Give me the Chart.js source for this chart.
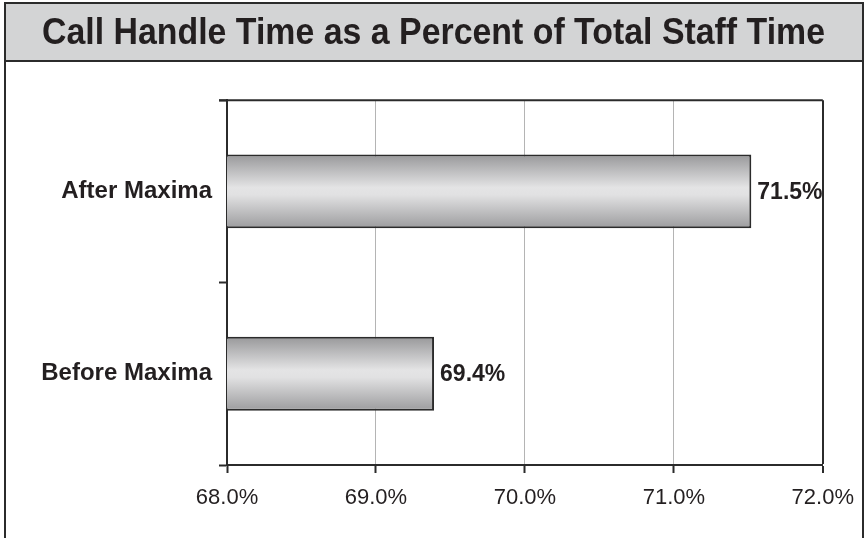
<!DOCTYPE html>
<html>
<head>
<meta charset="utf-8">
<script src="https://cdn.jsdelivr.net/npm/chart.js@4/dist/chart.umd.min.js"></script>
<style>
  html, body { margin: 0; padding: 0; background: #fff; }
  #wrap { position: relative; width: 866px; height: 538px; }
</style>
</head>
<body>
<div id="wrap"><canvas id="chart" width="866" height="538"></canvas></div>
<script>
const categories = ['After Maxima', 'Before Maxima'];
const shareValues = [71.52, 69.39];
const axisMin = 68;
const axisMax = 72;

const ctx = document.getElementById('chart');
const fontFamily = '"Liberation Sans", Arial, Helvetica, sans-serif';
const ink = '#231f20';

const barGradient = (context) => {
    const chart = context.chart;
    const { chartArea, scales } = chart;
    if (!chartArea || !scales.y) {
        return '#cfcfd0';
    }
    const yc = scales.y.getPixelForValue(context.dataIndex);
    const half = (scales.y.height / categories.length) * 0.405 / 2;
    const g = chart.ctx.createLinearGradient(0, yc - half, 0, yc + half);
    g.addColorStop(0, '#98989a');
    g.addColorStop(0.45, '#e4e4e5');
    g.addColorStop(0.55, '#e1e1e2');
    g.addColorStop(1, '#9c9c9e');
    return g;
};

const framePlugin = {
    id: 'frame',
    beforeDraw: (chart) => {
        const c = chart.ctx;
        c.save();
        c.fillStyle = '#ffffff';
        c.fillRect(0, 0, chart.width, chart.height);
        c.fillStyle = '#d3d4d5';
        c.fillRect(5, 3, 858, 58);
        c.strokeStyle = '#2b2b2b';
        c.lineWidth = 2;
        c.strokeRect(5, 3, 858, 58);
        c.beginPath();
        c.moveTo(5, 61);
        c.lineTo(5, chart.height);
        c.moveTo(863, 61);
        c.lineTo(863, chart.height);
        c.stroke();
        c.restore();
    },
    afterDraw: (chart) => {
        const { left, right, top } = chart.chartArea;
        const c = chart.ctx;
        c.save();
        c.strokeStyle = '#2b2b2b';
        c.lineWidth = 2;
        c.beginPath();
        c.moveTo(left - 8, top);
        c.lineTo(right, top);
        c.stroke();
        c.restore();
    }
};

const valueLabels = {
    id: 'valueLabels',
    afterDatasetsDraw: (chart) => {
        const c = chart.ctx;
        const meta = chart.getDatasetMeta(0);
        c.save();
        c.font = 'bold 23px ' + fontFamily;
        c.fillStyle = ink;
        c.textAlign = 'left';
        c.textBaseline = 'middle';
        meta.data.forEach((bar, i) => {
            c.fillText(shareValues[i].toFixed(1) + '%', bar.x + 6, bar.y + 1);
        });
        c.restore();
    }
};

const chart = new Chart(ctx, {
    type: 'bar',
    data: {
        labels: categories,
        datasets: [{
            data: shareValues,
            backgroundColor: barGradient,
            borderColor: '#2b2b2b',
            borderWidth: 2,
            borderSkipped: false,
            barPercentage: 0.405,
            categoryPercentage: 1
        }]
    },
    options: {
        indexAxis: 'y',
        responsive: false,
        animation: false,
        layout: {
            padding: { left: 42, right: 41, top: 0, bottom: 0 }
        },
        plugins: {
            legend: { display: false },
            tooltip: { enabled: false },
            title: {
                display: true,
                text: 'Call Handle Time as a Percent of Total Staff Time',
                color: ink,
                font: { family: fontFamily, size: 36, weight: 'bold' },
                padding: { top: 12, bottom: 45 }
            }
        },
        scales: {
            x: {
                min: axisMin,
                max: axisMax,
                afterFit: (scale) => { scale.height = 73; },
                ticks: {
                    stepSize: 1,
                    color: ink,
                    padding: 12,
                    font: { family: fontFamily, size: 22 },
                    callback: (v) => Number(v).toFixed(1) + '%'
                },
                grid: {
                    color: (c) => (c.tick && c.tick.value === axisMax ? '#2b2b2b' : '#b4b4b4'),
                    lineWidth: (c) => (c.tick && c.tick.value === axisMax ? 2 : 1),
                    tickColor: '#2b2b2b',
                    tickLength: 8,
                    tickWidth: 2
                },
                border: { display: true, color: '#2b2b2b', width: 2 }
            },
            y: {
                afterFit: (scale) => { scale.width = 185; },
                ticks: {
                    color: ink,
                    padding: 7,
                    font: { family: fontFamily, size: 24, weight: 'bold' }
                },
                grid: {
                    offset: true,
                    drawOnChartArea: false,
                    tickLength: 8,
                    tickColor: '#2b2b2b',
                    tickWidth: 2
                },
                border: { display: true, color: '#2b2b2b', width: 2 }
            }
        }
    },
    plugins: [framePlugin, valueLabels]
});
</script>
</body>
</html>
